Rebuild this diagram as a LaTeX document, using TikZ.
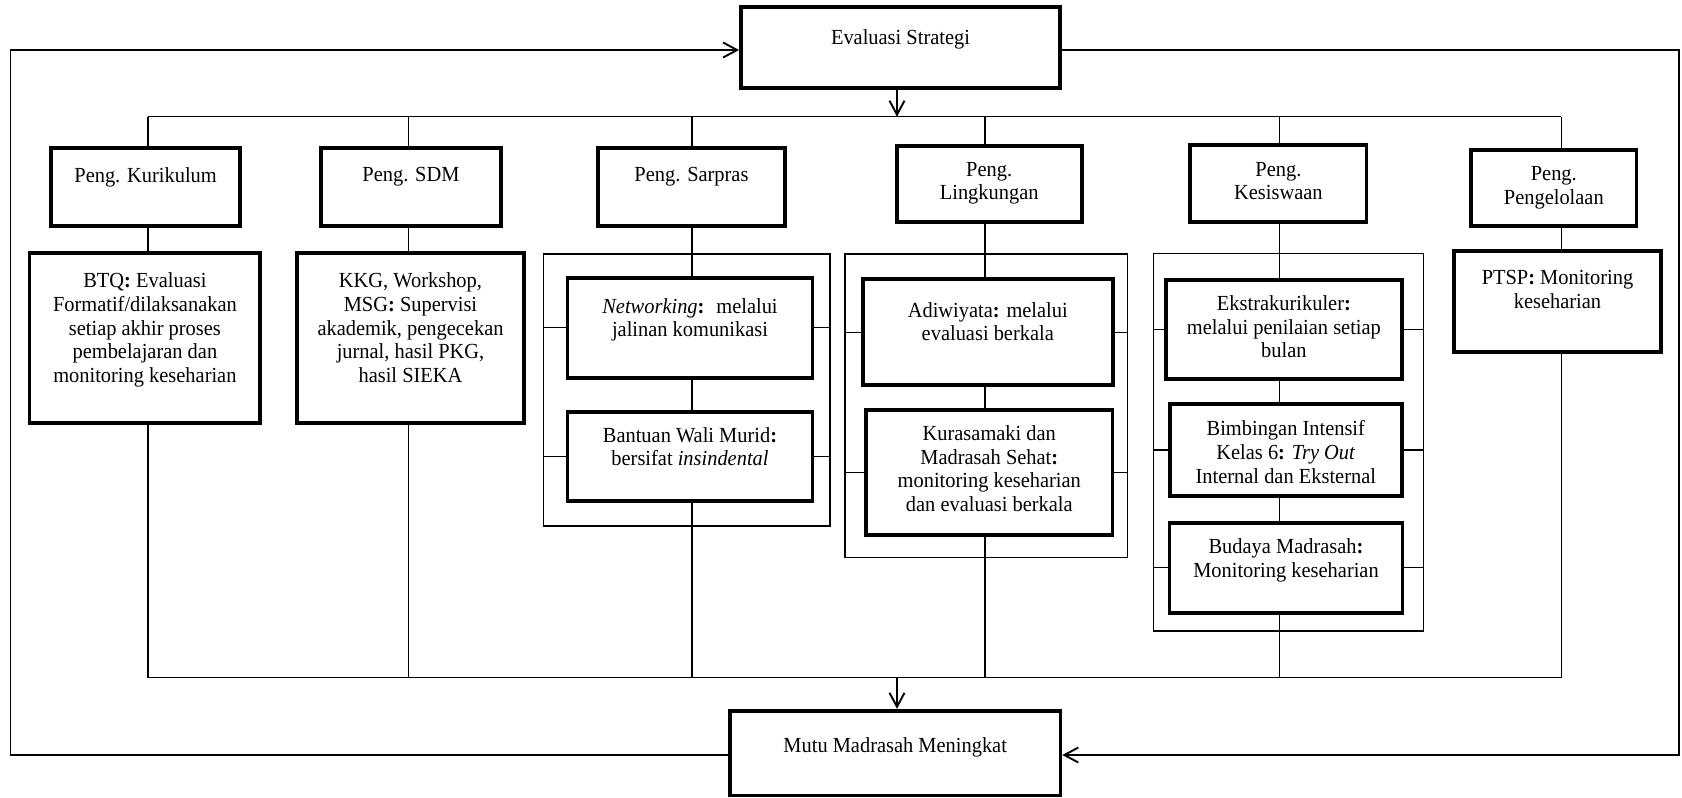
\documentclass[tikz,border=0pt]{standalone}
\usepackage{fontspec}
\setmainfont[FakeStretch=0.95]{Liberation Serif}
\usetikzlibrary{arrows.meta}
\begin{document}
\begin{tikzpicture}[x=1pt,y=-1pt,
  box/.style={draw, line width=3.8pt, fill=white, inner sep=0pt},
  grp/.style={draw, line width=1.3pt, inner sep=0pt},
  txt/.style={font=\fontsize{21.5}{23.7}\selectfont, align=center, inner sep=0pt, anchor=north},
  ln/.style={line width=1.3pt},
  arr/.style={ln, -{Straight Barb[length=14pt,width=15pt,line width=1.9pt]}}
]
\useasboundingbox (0,0) rectangle (1682,798);

% axes of the columns, bars and the outer loop
\coordinate (cK) at (148,0);
\coordinate (cS) at (408.7,0);
\coordinate (cSar) at (692,0);
\coordinate (cL) at (985,0);
\coordinate (cKes) at (1279.5,0);
\coordinate (cP) at (1561.4,0);
\coordinate (cM) at (897,0);
\coordinate (tb) at (0,116.7);
\coordinate (bb) at (0,677.7);
\coordinate (oL) at (10.5,0);
\coordinate (oR) at (1679,0);
\coordinate (oT) at (0,50);
\coordinate (oB) at (0,755);

% thin frames grouping several activities
\node[grp, minimum width=286.2pt, minimum height=272pt]   (gSar) at (686.9,390) {};
\node[grp, minimum width=282.4pt, minimum height=303.3pt] (gLin) at (986.2,405.65) {};
\node[grp, minimum width=270pt,   minimum height=377.7pt] (gKes) at (1288.5,442.15) {};

% main boxes
\node[box, minimum width=319pt,   minimum height=80.4pt] (eval) at (900.5,47.5) {};
\node[box, minimum width=330.4pt, minimum height=84.8pt] (mutu) at (895.2,753.1) {};

\node[box, minimum width=189.4pt, minimum height=77.4pt] (pK)   at (145.6,187) {};
\node[box, minimum width=180.6pt, minimum height=77.4pt] (pS)   at (411,187) {};
\node[box, minimum width=186.3pt, minimum height=77.4pt] (pSar) at (691.5,187) {};
\node[box, minimum width=184.8pt, minimum height=75.7pt] (pL)   at (989.2,183.85) {};
\node[box, minimum width=176.3pt, minimum height=76.7pt] (pKes) at (1278.4,183.35) {};
\node[box, minimum width=165.2pt, minimum height=75.7pt] (pP)   at (1553.8,187.85) {};

\node[box, minimum width=230.7pt, minimum height=170pt]   (dK)   at (144.9,338.3) {};
\node[box, minimum width=227.7pt, minimum height=170pt]   (dS)   at (410.5,338.3) {};
\node[box, minimum width=244.9pt, minimum height=100pt]   (net)  at (690,327.7) {};
\node[box, minimum width=244.9pt, minimum height=89pt]    (ban)  at (690,456.2) {};
\node[box, minimum width=250.3pt, minimum height=105.7pt] (adi)  at (987.8,332.15) {};
\node[box, minimum width=246.5pt, minimum height=125pt]   (kur)  at (989.3,472.5) {};
\node[box, minimum width=235.8pt, minimum height=99pt]    (eks)  at (1283.9,329.5) {};
\node[box, minimum width=232pt,   minimum height=91.4pt]  (bim)  at (1285.8,450) {};
\node[box, minimum width=233pt,   minimum height=90pt]    (bud)  at (1286,567.7) {};
\node[box, minimum width=207.5pt, minimum height=101pt]   (ptsp) at (1557.5,301.2) {};

% labels
\node[txt] (tEval) at (900.5,29.3) {Evaluasi Strategi};
\node[txt] (tMutu) at (895.2,737) {Mutu Madrasah Meningkat};
\node[txt] (tpK)   at (145.6,167) {Peng. Kurikulum};
\node[txt] (tpS)   at (411,167) {Peng. SDM};
\node[txt] (tpSar) at (691.5,167) {Peng. Sarpras};
\node[txt] (tpL)   at (989.2,162) {Peng.\\Lingkungan};
\node[txt] (tpKes) at (1278.4,162) {Peng.\\Kesiswaan};
\node[txt] (tpP)   at (1553.8,166.3) {Peng.\\Pengelolaan};
\node[txt] (tdK)   at (144.9,272.7) {BTQ\textbf{:} Evaluasi\\Formatif/dilaksanakan\\setiap akhir proses\\pembelajaran dan\\monitoring keseharian};
\node[txt] (tdS)   at (410.5,272.7) {KKG, Workshop,\\MSG\textbf{:} Supervisi\\akademik, pengecekan\\jurnal, hasil PKG,\\hasil SIEKA};
\node[txt] (tnet)  at (690,298) {\textit{Networking}\textbf{:}~ melalui\\jalinan komunikasi};
\node[txt] (tban)  at (690,427) {Bantuan Wali Murid\textbf{:}\\bersifat \textit{insindental}};
\node[txt] (tadi)  at (987.8,302) {Adiwiyata\textbf{:} melalui\\evaluasi berkala};
\node[txt] (tkur)  at (989.3,425.3) {Kurasamaki dan\\Madrasah Sehat\textbf{:}\\monitoring keseharian\\dan evaluasi berkala};
\node[txt] (teks)  at (1283.9,295.3) {Ekstrakurikuler\textbf{:}\\melalui penilaian setiap\\bulan};
\node[txt] (tbim)  at (1285.8,420.3) {Bimbingan Intensif\\Kelas 6\textbf{:} \textit{Try Out}\\Internal dan Eksternal};
\node[txt] (tbud)  at (1286,538.7) {Budaya Madrasah\textbf{:}\\Monitoring keseharian};
\node[txt] (tptsp) at (1557.5,270.3) {PTSP\textbf{:} Monitoring\\keseharian};

% distribution bar at the top
\draw[arr] (cM |- eval.south) -- (cM |- tb);
\draw[ln] (cK |- tb) -- (cP |- tb);
\draw[ln] (cK |- tb) -- (cK |- pK.north);
\draw[ln] (cS |- tb) -- (cS |- pS.north);
\draw[ln] (cSar |- tb) -- (cSar |- pSar.north);
\draw[ln] (cL |- tb) -- (cL |- pL.north);
\draw[ln] (cKes |- tb) -- (cKes |- pKes.north);
\draw[ln] (cP |- tb) -- (cP |- pP.north);

% columns
\draw[ln] (cK |- pK.south) -- (cK |- dK.north);
\draw[ln] (cK |- dK.south) -- (cK |- bb);
\draw[ln] (cS |- pS.south) -- (cS |- dS.north);
\draw[ln] (cS |- dS.south) -- (cS |- bb);
\draw[ln] (cSar |- pSar.south) -- (cSar |- net.north);
\draw[ln] (cSar |- net.south) -- (cSar |- ban.north);
\draw[ln] (cSar |- ban.south) -- (cSar |- bb);
\draw[ln] (cL |- pL.south) -- (cL |- adi.north);
\draw[ln] (cL |- adi.south) -- (cL |- kur.north);
\draw[ln] (cL |- kur.south) -- (cL |- bb);
\draw[ln] (cKes |- pKes.south) -- (cKes |- eks.north);
\draw[ln] (cKes |- eks.south) -- (cKes |- bim.north);
\draw[ln] (cKes |- bim.south) -- (cKes |- bud.north);
\draw[ln] (cKes |- bud.south) -- (cKes |- bb);
\draw[ln] (cP |- pP.south) -- (cP |- ptsp.north);
\draw[ln] (cP |- ptsp.south) -- (cP |- bb);

% side stubs to the group frames
\foreach \b/\g in {net/gSar, ban/gSar, adi/gLin, kur/gLin, eks/gKes, bim/gKes, bud/gKes} {
  \draw[ln] (\g.west |- \b.west) -- (\b.west);
  \draw[ln] (\b.east) -- (\g.east |- \b.east);
}

% collecting bar at the bottom
\draw[ln] (cK |- bb) -- (cP |- bb);
\draw[arr] (cM |- bb) -- (cM |- mutu.north);

% feedback loop
\draw[arr] (mutu.west |- oB) -- (oL |- oB) -- (oL |- oT) -- (eval.west |- oT);
\draw[arr] (eval.east |- oT) -- (oR |- oT) -- (oR |- oB) -- (mutu.east |- oB);
\end{tikzpicture}
\end{document}
